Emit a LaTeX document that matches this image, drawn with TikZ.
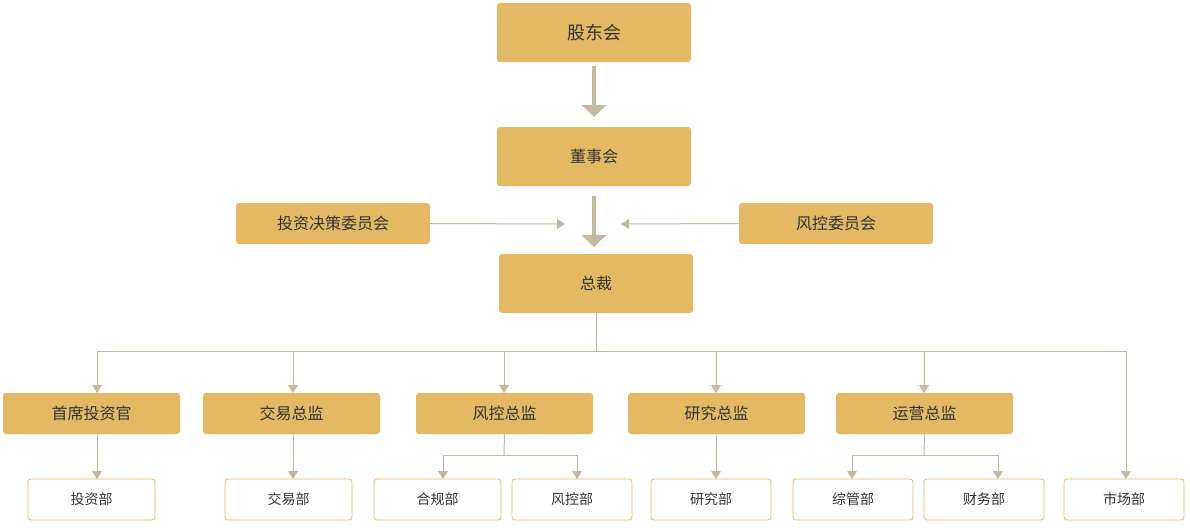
\documentclass[tikz,border=0pt]{standalone}
\usepackage{fontspec}
\setmainfont{Noto Sans CJK SC}
\usetikzlibrary{arrows.meta}
\definecolor{gold}{HTML}{E3B964}
\definecolor{ln}{HTML}{C4B8A0}
\definecolor{tx}{HTML}{333333}
\begin{document}
\begin{tikzpicture}[x=1pt,y=-1pt,
 g/.style={draw=none,fill=gold,rounded corners=3pt,text=tx,font=\fontsize{16}{18}\selectfont,inner sep=0pt},
 w/.style={draw=gold,fill=white,rounded corners=3pt,text=tx,font=\fontsize{14}{16}\selectfont,inner sep=0pt,line width=0.8pt},
 thick arr/.style={draw=ln,line width=4pt,-{Triangle[width=24pt,length=12pt]}},
 thin arr/.style={draw=ln,line width=1pt,-{Triangle[width=10pt,length=8pt]}},
 ln/.style={draw=ln,line width=1pt}]
\useasboundingbox (0,0) rectangle (1190,527);
\node[g,minimum width=194pt,minimum height=59pt,font=\fontsize{18}{20}\selectfont] (gd) at (594,32.5) {股东会};
\node[g,minimum width=194pt,minimum height=59pt] (ds) at (594,156.5) {董事会};
\node[g,minimum width=194pt,minimum height=41pt] (tz) at (333,223.5) {投资决策委员会};
\node[g,minimum width=194pt,minimum height=41pt] (fk) at (836,223.5) {风控委员会};
\node[g,minimum width=194pt,minimum height=59pt] (zc) at (596,283.5) {总裁};
\coordinate (a1) at (594,66); \coordinate (a2) at (594,117);
\coordinate (b1) at (594,196); \coordinate (b2) at (594,247);
\draw[thick arr] (a1) -- (a2);
\draw[thick arr] (b1) -- (b2);
\coordinate (l1) at (565,224); \coordinate (r1) at (621,224);
\draw[thin arr] (tz.east) -- (l1);
\draw[thin arr] (fk.west) -- (r1);
\foreach \n/\t/\x in {c1/首席投资官/91.5,c2/交易总监/291.5,c3/风控总监/504.5,c4/研究总监/716.5,c5/运营总监/924.5}
  \node[g,minimum width=177pt,minimum height=41pt] (\n) at (\x,413.5) {\t};
\foreach \n/\t/\x/\bw in {d1/投资部/91.5/127,d2/交易部/288.5/127,d3/合规部/437.5/127,d4/风控部/572/120,d5/研究部/711/120,d6/综管部/853/120,d7/财务部/984/120,d8/市场部/1124/120}
  \node[w,minimum width=\bw pt,minimum height=41pt] (\n) at (\x,499.5) {\t};
\coordinate (bus) at (596,351);
\draw[ln] (zc.south) -- (bus);
\draw[ln] (97,351) -- (1126,351);
\foreach \x/\n in {97/c1,293/c2,504/c3,716/c4,924/c5}
  \draw[thin arr] (\x,351) -- (\x,393);
\draw[thin arr] (1126,351) -- (1126,479);
\draw[thin arr] (97,434) -- (97,479);
\draw[thin arr] (293,434) -- (293,479);
\draw[thin arr] (716,434) -- (716,479);
\draw[ln] (c3.south) -- (504,455);
\draw[thin arr] (443,455) -- (577,455) -- (577,479);
\draw[thin arr] (504,455) -- (443,455) -- (443,479);
\draw[ln] (c5.south) -- (924,455);
\draw[thin arr] (924,455) -- (852,455) -- (852,479);
\draw[thin arr] (924,455) -- (998,455) -- (998,479);
\end{tikzpicture}
\end{document}
